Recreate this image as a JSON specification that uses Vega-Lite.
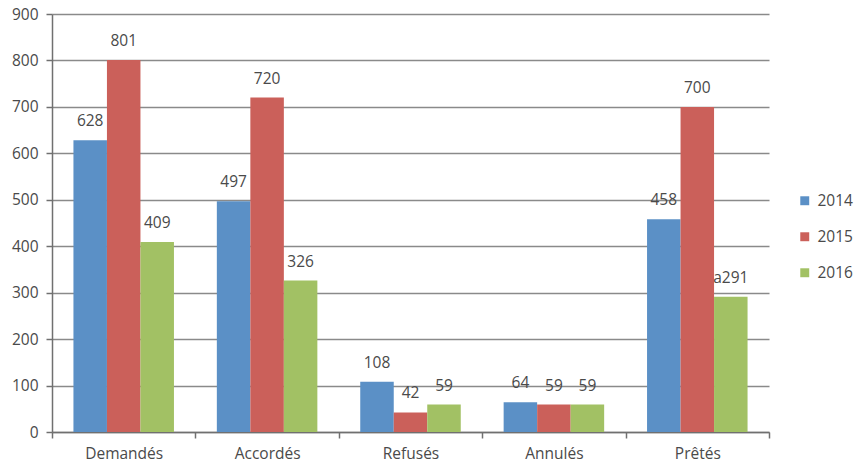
{
  "$schema": "https://vega.github.io/schema/vega-lite/v6.json",
  "autosize": "none",
  "padding": {"left": 52, "top": 14, "right": 95, "bottom": 36},
  "width": 717,
  "height": 418,
  "background": "white",
  "data": {
    "values": [
      {"cat": "Demandés", "year": "2014", "value": 628, "label": "628"},
      {"cat": "Demandés", "year": "2015", "value": 801, "label": "801"},
      {"cat": "Demandés", "year": "2016", "value": 409, "label": "409"},
      {"cat": "Accordés", "year": "2014", "value": 497, "label": "497"},
      {"cat": "Accordés", "year": "2015", "value": 720, "label": "720"},
      {"cat": "Accordés", "year": "2016", "value": 326, "label": "326"},
      {"cat": "Refusés", "year": "2014", "value": 108, "label": "108"},
      {"cat": "Refusés", "year": "2015", "value": 42, "label": "42"},
      {"cat": "Refusés", "year": "2016", "value": 59, "label": "59"},
      {"cat": "Annulés", "year": "2014", "value": 64, "label": "64"},
      {"cat": "Annulés", "year": "2015", "value": 59, "label": "59"},
      {"cat": "Annulés", "year": "2016", "value": 59, "label": "59"},
      {"cat": "Prêtés", "year": "2014", "value": 458, "label": "458"},
      {"cat": "Prêtés", "year": "2015", "value": 700, "label": "700"},
      {"cat": "Prêtés", "year": "2016", "value": 291, "label": "a291"}
    ]
  },
  "config": {
    "view": {"stroke": null},
    "font": "Open Sans"
  },
  "encoding": {
    "x": {
      "field": "cat", "type": "nominal", "sort": null, "title": null,
      "scale": {"paddingInner": 0, "paddingOuter": 0},
      "axis": {
        "labelAngle": 0, "labelFontSize": 15.5, "labelColor": "#4a4a4a",
        "tickBand": "extent", "tickSize": 6, "tickColor": "#707070", "tickWidth": 1.5,
        "domainColor": "#707070", "domainWidth": 1.5, "labelPadding": 8, "grid": false
      }
    },
    "xOffset": {
      "field": "year", "type": "nominal",
      "scale": {"paddingInner": 0, "paddingOuter": 0.64}
    },
    "y": {
      "field": "value", "type": "quantitative", "title": null,
      "scale": {"domain": [0, 900], "nice": false},
      "axis": {
        "values": [0, 100, 200, 300, 400, 500, 600, 700, 800, 900],
        "labelFontSize": 15.5, "labelColor": "#4a4a4a", "labelPadding": 8,
        "tickSize": 6, "tickColor": "#707070", "tickWidth": 1.5,
        "domainColor": "#707070", "domainWidth": 1.5,
        "gridColor": "#8a8a8a", "gridWidth": 1.5
      }
    }
  },
  "layer": [
    {
      "mark": {"type": "bar"},
      "encoding": {
        "color": {
          "field": "year", "type": "nominal", "title": null,
          "scale": {"domain": ["2014", "2015", "2016"], "range": ["#5B90C6", "#CB605A", "#A2C164"]},
          "legend": {
            "orient": "none", "legendX": 745, "legendY": 179,
            "symbolType": "square", "symbolSize": 80, "symbolStrokeWidth": 0,
            "labelFontSize": 15.5, "labelColor": "#4a4a4a", "rowPadding": 19, "labelOffset": 5,
            "symbolOffset": 0
          }
        }
      }
    },
    {
      "mark": {"type": "text", "dy": -19, "fontSize": 15.5, "color": "#4a4a4a", "baseline": "middle"},
      "encoding": {"text": {"field": "label"}}
    }
  ]
}
